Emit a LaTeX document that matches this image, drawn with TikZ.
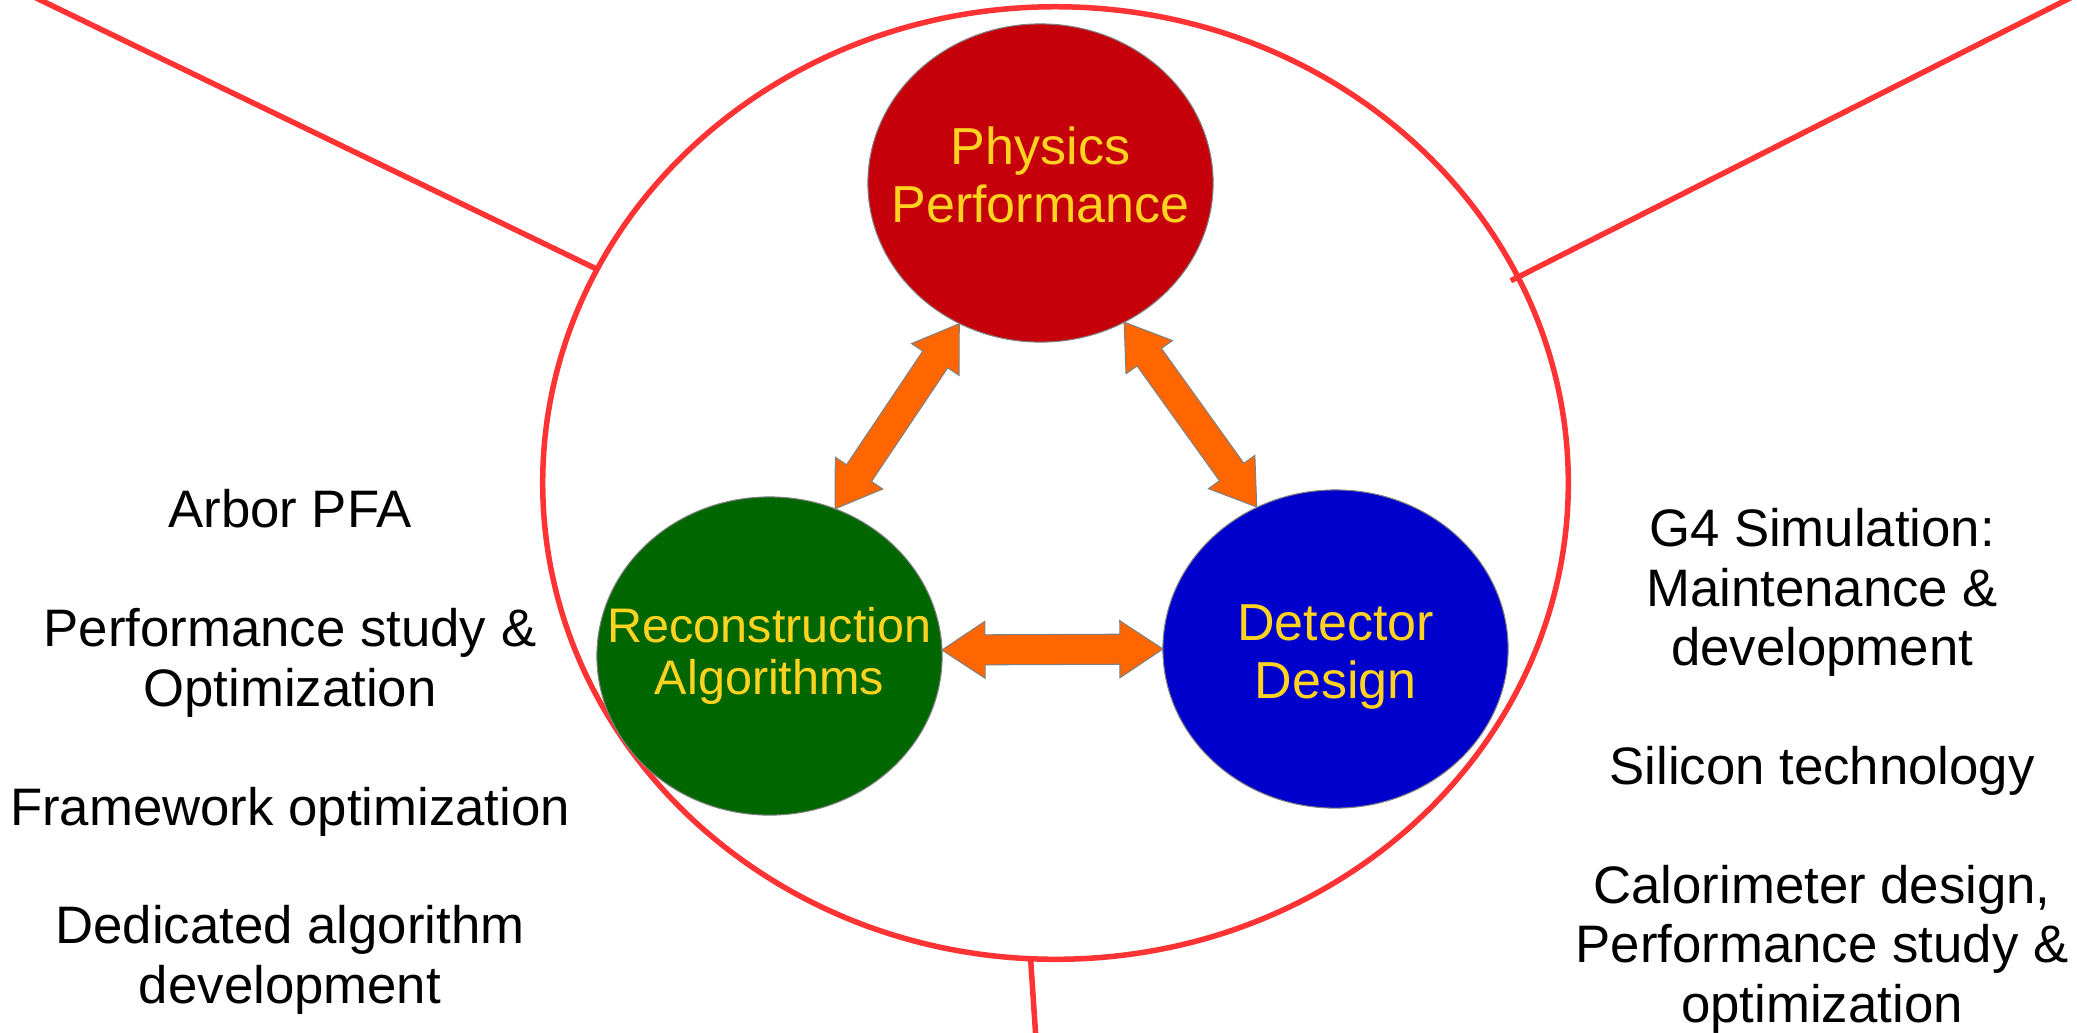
\documentclass[tikz,border=0pt]{standalone}
\usepackage{fontspec}
\setmainfont{Liberation Sans}
\usetikzlibrary{shapes.geometric,calc}

\definecolor{ringred}{HTML}{FF3333}
\definecolor{physred}{HTML}{C5000B}
\definecolor{recogreen}{HTML}{006600}
\definecolor{detblue}{HTML}{0000CC}
\definecolor{labelyellow}{HTML}{FFD320}
\definecolor{linkorange}{HTML}{FF6600}

\newcommand\twoway[2]{%
  \draw[link] let \p1=(#1), \p2=(#2),
      \n1={atan2(\y2-\y1,\x2-\x1)}, \n2={veclen(\x2-\x1,\y2-\y1)} in
    [shift={(\p1)}, rotate=\n1]
    (0pt,0pt) -- (0.43cm,0.285cm) -- (0.43cm,0.15cm) -- ({\n2-0.43cm},0.15cm)
    -- ({\n2-0.43cm},0.285cm) -- (\n2,0pt) -- ({\n2-0.43cm},-0.285cm)
    -- ({\n2-0.43cm},-0.15cm) -- (0.43cm,-0.15cm) -- (0.43cm,-0.285cm) -- cycle;
}

\begin{document}
\begin{tikzpicture}[x=0.01cm,y=-0.01cm,
  ring/.style={ellipse,draw=ringred,line width=0.055cm,inner sep=0pt,outer sep=0pt,
    minimum width=10.25cm,minimum height=9.52cm},
  spoke/.style={draw=ringred,line width=0.055cm},
  hub/.style={ellipse,draw=gray,line width=0.3pt,inner sep=0pt,outer sep=0pt,
    minimum width=3.45cm,minimum height=3.18cm},
  hubtext/.style={text=labelyellow,align=center,font=\fontsize{14.8}{16.5}\selectfont},
  link/.style={fill=linkorange,draw=gray,line width=0.3pt},
  topic/.style={align=center,font=\fontsize{15}{16.9}\selectfont}]
\useasboundingbox (0,0) rectangle (2077,1032);

\node[ring] (team) at (1055.5,483) {};
\coordinate (nw) at (30,-5);
\coordinate (ne) at (2076,-5);
\coordinate (s) at (1036,1040);
\draw[spoke] (team.155.8) -- (nw);
\draw[spoke,shorten <=-0.08cm] (team.24.8) -- (ne);
\draw[spoke] (team.267.7) -- (s);

\node[hub,fill=physred,label={[hubtext,yshift=0.08cm]center:Physics\\Performance}] (phys) at (1040.5,183) {};
\node[hub,fill=recogreen,label={[hubtext,font=\fontsize{13.8}{15}\selectfont]center:Reconstruction\\Algorithms}] (reco) at (769.5,656) {};
\node[hub,fill=detblue,label={[hubtext,yshift=-0.08cm]center:Detector\\Design}] (det) at (1335.5,649) {};

\twoway{reco.66}{phys.240}
\twoway{phys.301.8}{det.119.5}
\twoway{reco.2.6}{det.west}

\node[topic] (recotopics) at (290,752) {Arbor PFA\\[\baselineskip]
  Performance study \&\\Optimization\\[\baselineskip]
  Framework optimization\\[\baselineskip]
  Dedicated algorithm\\development};
\node[topic] (dettopics) at (1822,771) {G4 Simulation:\\Maintenance \&\\development\\[\baselineskip]
  Silicon technology\\[\baselineskip]
  Calorimeter design,\\Performance study \&\\optimization};
\end{tikzpicture}
\end{document}
